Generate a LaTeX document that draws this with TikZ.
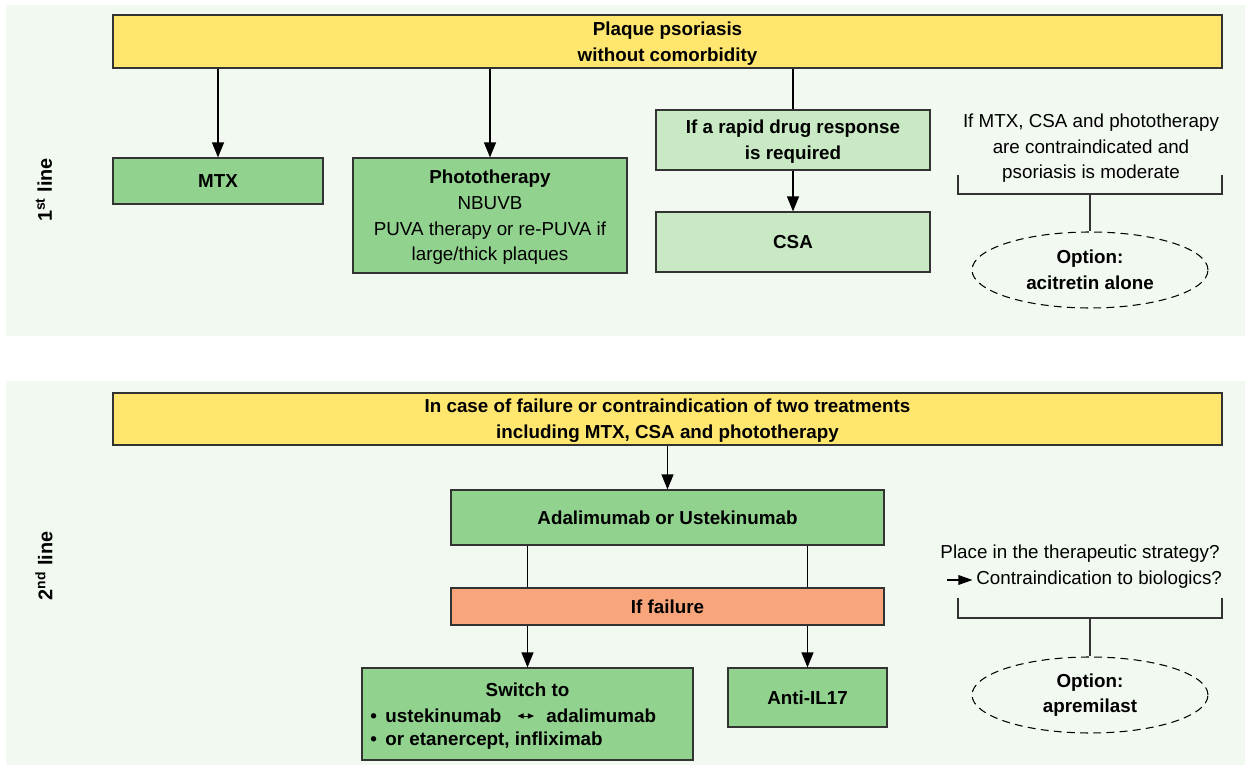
\documentclass[tikz,border=0pt]{standalone}
\usepackage{fontspec}
\setmainfont{Liberation Sans}
\usetikzlibrary{arrows.meta,shapes.geometric}
\definecolor{bgc}{HTML}{F2F9F1}
\definecolor{yel}{HTML}{FFE66E}
\definecolor{grn}{HTML}{92D28F}
\definecolor{lgrn}{HTML}{C8E9C4}
\definecolor{sal}{HTML}{F9A57C}
\definecolor{edge}{HTML}{333333}
\tikzset{
  txt/.style={font=\fontsize{10.7}{14.6}\selectfont, align=center, inner sep=0pt, text=black},
  btxt/.style={txt, font=\fontsize{10.7}{14.6}\selectfont\bfseries},
  ml/.style={text depth=-1.2pt},
  box/.style={draw=edge, line width=0.7pt, rectangle, inner sep=0pt, align=center,
              font=\fontsize{10.7}{14.6}\selectfont\bfseries},
  ybox/.style={box, fill=yel},
  gbox/.style={box, fill=grn},
  lbox/.style={box, fill=lgrn},
  sbox/.style={box, fill=sal},
  opt/.style={draw=black, dash pattern=on 4.5pt off 3pt, line width=0.6pt, ellipse, inner sep=0pt,
              minimum width=4.72cm, minimum height=1.52cm, align=center,
              font=\fontsize{10.7}{14.6}\selectfont\bfseries},
  arr/.style={draw=black, line width=0.7pt, -{Triangle[width=6.8pt,length=8.5pt]}},
  ln/.style={draw=black, line width=0.7pt},
  brk/.style={draw=edge, line width=0.7pt},
}
\begin{document}
\begin{tikzpicture}[x=0.02cm, y=-0.02cm]
\useasboundingbox (0,0) rectangle (1245,766);
\fill[white] (0,0) rectangle (1245,766);
% panels
\fill[bgc] (6,5) rectangle (1245,336);
\fill[bgc] (6,381) rectangle (1245,765);

% ---------- 1st line ----------
\node[btxt, rotate=90, font=\fontsize{11.3}{14}\selectfont\bfseries] (l1) at (44,190) {1\textsuperscript{st} line};
\node[ybox, ml, minimum width=22.18cm, minimum height=1.06cm] (y1) at (667.5,41.5)
  {Plaque psoriasis\\without comorbidity};
\node[gbox, minimum width=4.2cm, minimum height=0.92cm] (mtx) at (218,181) {MTX};
\node[gbox, ml, minimum width=5.48cm, minimum height=2.3cm] (photo) at (490,215.5)
  {Phototherapy\\\mdseries NBUVB\\\mdseries PUVA therapy or re-PUVA if\\\mdseries large/thick plaques};
\node[lbox, ml, minimum width=5.48cm, minimum height=1.2cm] (rapid) at (793,140)
  {If a rapid drug response\\is required};
\node[lbox, minimum width=5.48cm, minimum height=1.2cm] (csa) at (793,242) {CSA};

\draw[arr] (y1.south -| mtx.north) -- (mtx.north);
\draw[arr] (y1.south -| photo.north) -- (photo.north);
\draw[ln] (y1.south -| rapid.north) -- (rapid.north);
\draw[arr] (rapid.south) -- (csa.north);

\node[txt, ml] (ci1) at (1091,146.5)
  {If MTX, CSA and phototherapy\\are contraindicated and\\psoriasis is moderate};
\draw[brk] (958,175) -- (958,194) -- (1222,194) -- (1222,175);
\coordinate (b1) at (1090,194);
\node[opt] (e1) at (1090,270) {Option:\\acitretin alone};
\draw[brk] (b1) -- (e1.north);

% ---------- 2nd line ----------
\node[btxt, rotate=90, font=\fontsize{11.3}{14}\selectfont\bfseries] (l2) at (44,566) {2\textsuperscript{nd} line};
\node[ybox, ml, minimum width=22.18cm, minimum height=1.04cm] (y2) at (667.5,419)
  {In case of failure or contraindication of two treatments\\including MTX, CSA and phototherapy};
\node[gbox, minimum width=8.66cm, minimum height=1.1cm] (adal) at (667.5,517.5)
  {Adalimumab or Ustekinumab};
\node[sbox, minimum width=8.66cm, minimum height=0.74cm] (fail) at (667.5,606.5) {If failure};
\node[gbox, minimum width=6.62cm, minimum height=1.84cm] (sw) at (527.5,714) {};
\node[gbox, minimum width=3.18cm, minimum height=1.18cm] (anti) at (807.5,697.5) {Anti-IL17};

\node[btxt] (swt) at (527.5,690) {Switch to};
\node[btxt, anchor=west] (ust) at (370,716) {•\hspace{0.45em}ustekinumab};
\node[btxt, anchor=west] (ada) at (546,716) {adalimumab};
\node[btxt, anchor=west] (eta) at (370,741) {•\hspace{0.45em}or etanercept, infliximab};
\draw[line width=0.5pt, {Triangle[width=3pt,length=3.5pt]}-{Triangle[width=3pt,length=3.5pt]},
      shorten <=9pt, shorten >=6.8pt] (ust.east) -- (ada.west);

\draw[arr] (y2.south -| adal.north) -- (adal.north);
\draw[ln] (adal.south -| sw.north) -- (fail.north -| sw.north);
\draw[ln] (adal.south -| anti.north) -- (fail.north -| anti.north);
\draw[arr] (fail.south -| sw.north) -- (sw.north);
\draw[arr] (fail.south -| anti.north) -- (anti.north);

\node[txt] (pl) at (1080,554) {Place in the therapeutic strategy?};
\node[txt, anchor=west] (ct) at (976,580) {Contraindication to biologics?};
\coordinate (ca) at (947,580);
\draw[line width=0.7pt, -{Triangle[width=5.5pt,length=8pt]}, shorten >=2pt] (ca) -- (ct.west);
\draw[brk] (958,598) -- (958,618) -- (1222,618) -- (1222,598);
\coordinate (b2) at (1090,618);
\node[opt] (e2) at (1090,695) {Option:\\apremilast};
\draw[brk] (b2) -- (e2.north);
\end{tikzpicture}
\end{document}
